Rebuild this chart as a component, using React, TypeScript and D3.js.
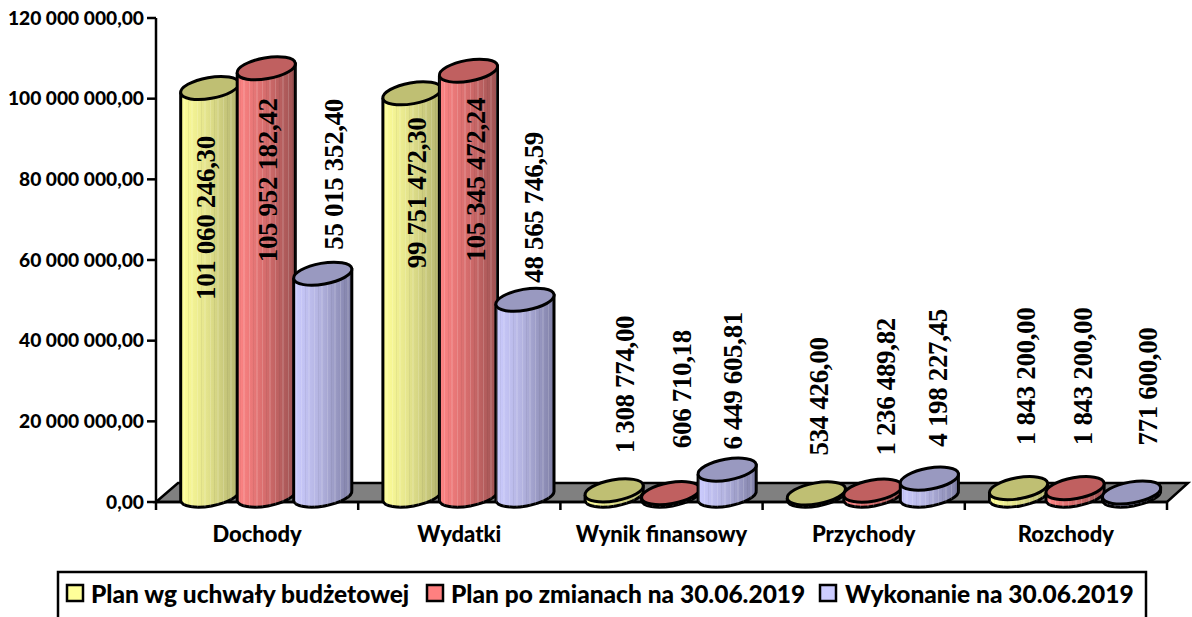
import React from 'react';
import * as d3 from 'd3';

const categories = ['Dochody', 'Wydatki', 'Wynik finansowy', 'Przychody', 'Rozchody'];
const planUchwala = [101060246.3, 99751472.3, 1308774.0, 534426.0, 1843200.0];
const planZmiany = [105952182.42, 105345472.24, 606710.18, 1236489.82, 1843200.0];
const wykonanie = [55015352.4, 48565746.59, 6449605.81, 4198227.45, 771600.0];
const yTicks = [0, 20000000, 40000000, 60000000, 80000000, 100000000, 120000000];
const seriesNames = ['Plan wg uchwały budżetowej', 'Plan po zmianach na 30.06.2019', 'Wykonanie na 30.06.2019'];

const width = 1192;
const height = 617;
const sansFont = 'Lato, Carlito, sans-serif';
const serifFont = '"Liberation Serif", serif';

const seriesValues = [planUchwala, planZmiany, wykonanie];
const palette = [
  { light: '#ffff99', mid: '#e3e38c', dark: '#b3b36e', top: '#bfbf73', swatch: '#ffff99' },
  { light: '#ff8585', mid: '#d96e6e', dark: '#9c5252', top: '#c06060', swatch: '#ff8080' },
  { light: '#ccccff', mid: '#b3b3e0', dark: '#7f7fa6', top: '#9999c0', swatch: '#ccccff' },
];

// hand placed labels in the source chart: gap from the cylinder top, shift from its centre
const labelGaps = [
  [-212, -194, 24],
  [-175, -191, 17],
  [37, 45, 20],
  [38, 35, 32],
  [43, 43, 47],
];
const labelShifts = [
  [5, 11, 20],
  [14, 17, 18],
  [20, 20, 15],
  [12, 22, 18],
  [16, 17, 25],
];

const y = d3.scaleLinear().domain([0, 120000000]).range([502, 18]);
const x0 = d3.scaleBand<string>().domain(categories).range([156, 1167]);
const x1 = d3.scaleBand<string>().domain(['0', '1', '2']).range([0, 169.5]);

const fmt = (v: number) => {
  const [int, dec] = v.toFixed(2).split('.');
  return `${int.replace(/\B(?=(\d{3})+(?!\d))/g, ' ')},${dec}`;
};

const depthX = 25.5;
const depthY = 6.4;
const rx = 29.5;
const ry = 10.5;
const tilt = 10;
const dx = rx * Math.cos((tilt * Math.PI) / 180);
const dy = rx * Math.sin((tilt * Math.PI) / 180);

const cylinderX = (g: number, s: number) =>
  (x0(categories[g]) as number) + depthX + (x1(String(s)) as number) + x1.bandwidth() / 2;

const Cylinder = ({ g, s }: { g: number; s: number }) => {
  const cx = cylinderX(g, s);
  const top = y(seriesValues[s][g]) - depthY;
  const base = y(0) - depthY;
  const body = `M${cx - dx},${top + dy} L${cx - dx},${base + dy} A${rx},${ry} ${-tilt} 0 0 ${cx + dx},${base - dy} L${cx + dx},${top - dy} Z`;
  return (
    <g>
      <path d={body} fill={`url(#body${s})`} stroke="#000" strokeWidth={3} strokeLinejoin="round" />
      <path d={body} fill="url(#stripes)" />
      <ellipse
        cx={cx}
        cy={top}
        rx={rx}
        ry={ry}
        transform={`rotate(${-tilt} ${cx} ${top})`}
        fill={palette[s].top}
        stroke="#000"
        strokeWidth={3}
      />
    </g>
  );
};

const ValueLabel = ({ g, s }: { g: number; s: number }) => {
  const lx = cylinderX(g, s) + labelShifts[g][s];
  const ly = y(seriesValues[s][g]) - depthY - labelGaps[g][s];
  return (
    <text
      transform={`translate(${lx},${ly}) rotate(-90)`}
      fontFamily={serifFont}
      fontWeight="bold"
      fontSize={27}
      letterSpacing={-0.35}
      fill="#000"
    >
      {fmt(seriesValues[s][g])}
    </text>
  );
};

export default function App() {
  const x0Ticks = [...categories.map((c) => x0(c) as number), 1167];
  const legendSwatch = [67, 427, 820];
  const legendText = [91, 451, 845];
  return (
    <svg width={width} height={height} style={{ position: 'absolute', left: 0, top: 0, display: 'block' }}>
      <defs>
        {palette.map((p, i) => (
          <linearGradient key={i} id={`body${i}`} x1="0" x2="1" y1="0" y2="0">
            <stop offset="0" stopColor={p.light} />
            <stop offset="0.45" stopColor={p.mid} />
            <stop offset="1" stopColor={p.dark} />
          </linearGradient>
        ))}
        <pattern id="stripes" width={13} height={10} patternUnits="userSpaceOnUse">
          <rect x={2} width={1} height={10} fill="#fff" opacity={0.16} />
          <rect x={6} width={1} height={10} fill="#000" opacity={0.05} />
          <rect x={9} width={2} height={10} fill="#fff" opacity={0.12} />
        </pattern>
      </defs>

      <path
        d={`M${x0.range()[0]},${y(0)} L178,483 L1188,483 L${x0.range()[1]},${y(0)} Z`}
        fill="#808080"
        stroke="#000"
        strokeWidth={2.5}
      />

      <line x1={156} x2={156} y1={y(120000000)} y2={y(0)} stroke="#000" strokeWidth={2.5} />
      {yTicks.map((t) => (
        <g key={t}>
          <line x1={147} x2={156} y1={y(t)} y2={y(t)} stroke="#000" strokeWidth={2.5} />
          <text
            x={144}
            y={y(t)}
            dy="0.35em"
            textAnchor="end"
            fontFamily={sansFont}
            fontWeight={900}
            fontSize={19.2}
          >
            {fmt(t)}
          </text>
        </g>
      ))}

      <line x1={156} x2={1167} y1={y(0)} y2={y(0)} stroke="#000" strokeWidth={2.5} />
      {x0Ticks.map((t) => (
        <line key={t} x1={t} x2={t} y1={y(0)} y2={510} stroke="#000" strokeWidth={2.5} />
      ))}
      {categories.map((c) => (
        <text
          key={c}
          x={(x0(c) as number) + x0.bandwidth() / 2}
          y={534}
          dy="0.35em"
          textAnchor="middle"
          fontFamily={sansFont}
          fontWeight={900}
          fontSize={22}
        >
          {c}
        </text>
      ))}

      {categories.map((c, g) => (
        <g key={c}>
          {seriesValues.map((_, s) => (
            <Cylinder key={s} g={g} s={s} />
          ))}
        </g>
      ))}
      {categories.map((c, g) => (
        <g key={c}>
          {seriesValues.map((_, s) => (
            <ValueLabel key={s} g={g} s={s} />
          ))}
        </g>
      ))}

      <rect x={58} y={572} width={1088} height={60} fill="#fff" stroke="#000" strokeWidth={2.5} />
      {seriesNames.map((n, i) => (
        <g key={n}>
          <rect x={legendSwatch[i]} y={585} width={16} height={16} fill={palette[i].swatch} stroke="#000" strokeWidth={2.5} />
          <text x={legendText[i]} y={594} dy="0.35em" fontFamily={sansFont} fontWeight={900} fontSize={24.5}>
            {n}
          </text>
        </g>
      ))}
    </svg>
  );
}
